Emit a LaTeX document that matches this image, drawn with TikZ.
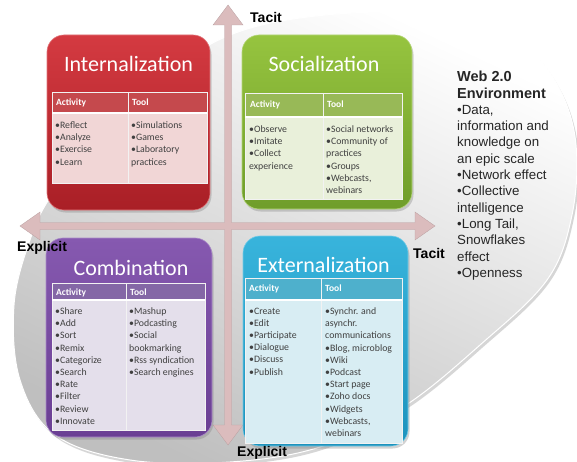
\documentclass[tikz,border=0pt]{standalone}
\usepackage{fontspec}
\setmainfont{Carlito}
\newfontfamily\arialf{Liberation Sans}
\usetikzlibrary{shadows}
\definecolor{INTtop}{HTML}{D43A41}
\definecolor{INTbot}{HTML}{A91F26}
\definecolor{INThead}{HTML}{C5494D}
\definecolor{INTbody}{HTML}{F1D6D6}
\definecolor{SOCtop}{HTML}{96C43F}
\definecolor{SOCbot}{HTML}{6F9D2A}
\definecolor{SOChead}{HTML}{98B957}
\definecolor{SOCbody}{HTML}{E9F0DA}
\definecolor{COMtop}{HTML}{8659B0}
\definecolor{COMbot}{HTML}{6A3F93}
\definecolor{COMhead}{HTML}{8467A6}
\definecolor{COMbody}{HTML}{E4DFEB}
\definecolor{EXTtop}{HTML}{38B4DC}
\definecolor{EXTbot}{HTML}{1E93BD}
\definecolor{EXThead}{HTML}{4EB0CC}
\definecolor{EXTbody}{HTML}{D8EDF3}
\definecolor{ARROWC}{HTML}{DBBCBD}
\definecolor{TXT}{HTML}{404040}
\tikzset{
  quadbox/.style={rounded corners=17pt, line width=0.6pt,
    drop shadow={opacity=0.35, shadow xshift=1.5pt, shadow yshift=-2.5pt}},
  quadtitle/.style={text=white, font=\fontsize{22}{26}\selectfont, inner sep=0pt},
  hdrtxt/.style={text=white, font=\bfseries\fontsize{9.5}{11}\selectfont, inner sep=0pt, anchor=base west},
  bodytxt/.style={text=TXT, font=\fontsize{9.8}{12.2}\selectfont, inner sep=0pt, align=left, anchor=north west},
  axislabel/.style={font=\arialf\bfseries\fontsize{14}{16}\selectfont, inner sep=0pt, anchor=base west},
  axisarrow/.style={fill=ARROWC, draw=ARROWC!85!black, line width=0.3pt},
  tline/.style={draw=white, line width=1.4pt},
  cline/.style={draw=white!90!gray, line width=0.8pt},
  blob/.style={smooth cycle, tension=0.6}
}
\begin{document}
\begin{tikzpicture}[x=1pt,y=-1pt]
\useasboundingbox[fill=white] (0,0) rectangle (577,462);

% background ellipse-like environment shape
\fill[black!35, opacity=0.45, shift={(2,3)}] plot[blob] coordinates {
  (300,18) (390,12) (470,20) (525,45) (560,90) (576,145) (572,215) (547,280)
  (480,345) (403,407) (320,447) (230,462) (130,460) (55,435) (20,380) (14,305)
  (30,240) (53,193) (110,120) (170,70) (230,35)};
\shade[top color=white, bottom color=black!25, shading angle=-25, draw=white, line width=1pt]
  plot[blob] coordinates {
  (300,18) (390,12) (470,20) (525,45) (560,90) (576,145) (572,215) (547,280)
  (480,345) (403,407) (320,447) (230,462) (130,460) (55,435) (20,380) (14,305)
  (30,240) (53,193) (110,120) (170,70) (230,35)};

% axes
\coordinate (vtop) at (228,5);
\coordinate (vbot) at (228,445);
\coordinate (hleft) at (20,226);
\coordinate (hright) at (435,226);
\path[axisarrow] (vtop) -- (243,25) -- (231.5,25) -- (231.5,222.5) -- (415,222.5) -- (415,212)
  -- (hright) -- (415,240) -- (415,229.5) -- (231.5,229.5) -- (231.5,425) -- (243,425)
  -- (vbot) -- (213,425) -- (224.5,425) -- (224.5,229.5) -- (40,229.5) -- (40,240)
  -- (hleft) -- (40,212) -- (40,222.5) -- (224.5,222.5) -- (224.5,25) -- (213,25) -- cycle;

% ---------- Internalization ----------
\path[quadbox, top color=INTtop, bottom color=INTbot, draw=INTtop!70!white] (47,35) rectangle (210,210);
\node[quadtitle] (intT) at (128.5,64) {Internalization};
\fill[INThead] (52,92) rectangle (207,113);
\fill[INTbody] (52,113) rectangle (207,183);
\draw[cline] (128,92) -- (128,183);
\draw[cline] (52,92) rectangle (207,183);
\draw[tline] (52,113) -- (207,113);
\node[hdrtxt] (intA) at (56,106) {Activity};
\node[hdrtxt] (intB) at (132,106) {Tool};
\node[bodytxt] (intC) at (55,121.5) {•Reflect\\•Analyze\\•Exercise\\•Learn};
\node[bodytxt] (intD) at (131,121.5) {•Simulations\\•Games\\•Laboratory\\practices};

% ---------- Socialization ----------
\path[quadbox, top color=SOCtop, bottom color=SOCbot, draw=SOCtop!70!white] (242,35) rectangle (412,209);
\node[quadtitle] (socT) at (324,64) {Socialization};
\fill[SOChead] (245,93) rectangle (402,117);
\fill[SOCbody] (245,117) rectangle (402,199);
\draw[cline] (323,93) -- (323,199);
\draw[cline] (245,93) rectangle (402,199);
\draw[tline] (245,117) -- (402,117);
\node[hdrtxt] (socA) at (250,108) {Activity};
\node[hdrtxt] (socB) at (327,108) {Tool};
\node[bodytxt] (socC) at (249,125.5) {•Observe\\•Imitate\\•Collect\\experience};
\node[bodytxt] (socD) at (326,125.5) {•Social networks\\•Community of\\practices\\•Groups\\•Webcasts,\\webinars};

% ---------- Combination ----------
\path[quadbox, top color=COMtop, bottom color=COMbot, draw=COMtop!70!white] (46,238) rectangle (212,437);
\node[quadtitle] (comT) at (131,268) {Combination};
\fill[COMhead] (52,283) rectangle (205,300);
\fill[COMbody] (52,300) rectangle (205,430);
\draw[cline] (126,283) -- (126,430);
\draw[cline] (52,283) rectangle (205,430);
\draw[tline] (52,300) -- (205,300);
\node[hdrtxt] (comA) at (56,295) {Activity};
\node[hdrtxt] (comB) at (130,295) {Tool};
\node[bodytxt] (comC) at (55,307.5) {•Share\\•Add\\•Sort\\•Remix\\•Categorize\\•Search\\•Rate\\•Filter\\•Review\\•Innovate};
\node[bodytxt] (comD) at (129,307.5) {•Mashup\\•Podcasting\\•Social\\bookmarking\\•Rss syndication\\•Search engines};

% ---------- Externalization ----------
\path[quadbox, top color=EXTtop, bottom color=EXTbot, draw=EXTtop!70!white] (243,236) rectangle (408,446);
\node[quadtitle] (extT) at (323.5,265) {Externalization};
\fill[EXThead] (245,278) rectangle (402,300);
\fill[EXTbody] (245,300) rectangle (402,443);
\draw[cline] (321,278) -- (321,443);
\draw[cline] (245,278) rectangle (402,443);
\draw[tline] (245,300) -- (402,300);
\node[hdrtxt] (extA) at (249,291) {Activity};
\node[hdrtxt] (extB) at (325,291) {Tool};
\node[bodytxt] (extC) at (249,307.5) {•Create\\•Edit\\•Participate\\•Dialogue\\•Discuss\\•Publish};
\node[bodytxt] (extD) at (325,307.5) {•Synchr. and\\asynchr.\\communications\\•Blog, microblog\\•Wiki\\•Podcast\\•Start page\\•Zoho docs\\•Widgets\\•Webcasts,\\webinars};

% axis labels (on top of the boxes)
\node[axislabel] (tacitT) at (250,23) {Tacit};
\node[axislabel] (tacitR) at (413,258) {Tacit};
\node[axislabel] (explL) at (17,251) {Explicit};
\node[axislabel] (explB) at (237,456) {Explicit};

% ---------- Web 2.0 text ----------
\node[anchor=north west, align=left, inner sep=0pt, text=black!85,
  font=\arialf\fontsize{13.3}{16.3}\selectfont] (web) at (457,71)
  {{\fontsize{14.5}{16.3}\selectfont\bfseries Web 2.0}\\{\fontsize{14.5}{16.3}\selectfont\bfseries Environment}\\•Data,\\information and\\knowledge on\\an epic scale\\•Network effect\\•Collective\\intelligence\\•Long Tail,\\Snowflakes\\effect\\•Openness};
\end{tikzpicture}
\end{document}
